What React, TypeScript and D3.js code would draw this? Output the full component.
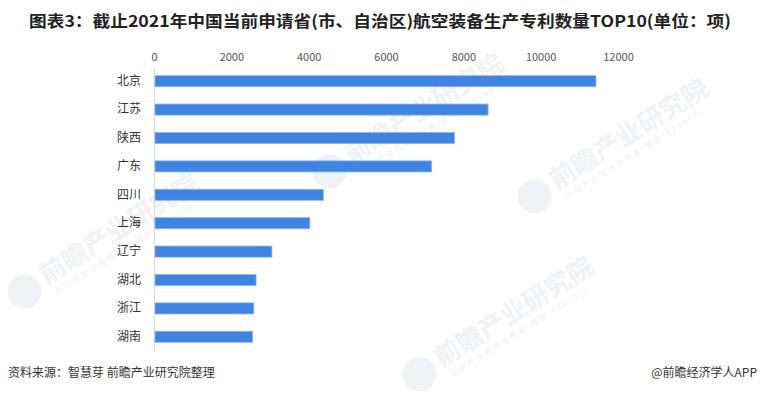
import React, { useEffect, useRef } from "react";
import * as d3 from "d3";

const provinces = ["北京", "江苏", "陕西", "广东", "四川", "上海", "辽宁", "湖北", "浙江", "湖南"];
const patents = [11430, 8640, 7770, 7180, 4380, 4030, 3050, 2640, 2580, 2550];
const xTicks = [0, 2000, 4000, 6000, 8000, 10000, 12000];

const title = "图表3：截止2021年中国当前申请省(市、自治区)航空装备生产专利数量TOP10(单位：项)";
const source = "资料来源：智慧芽 前瞻产业研究院整理";
const brand = "@前瞻经济学人APP";

const W = 760;
const H = 393;
const font = "'Noto Sans CJK SC', 'Noto Sans', sans-serif";

const App = () => {
  const ref = useRef<SVGSVGElement>(null);

  useEffect(() => {
    const svg = d3.select(ref.current);
    svg.selectAll("*").remove();

    const left = 154;
    const top = 67;
    const innerW = 464;
    const innerH = 284;

    // watermark, kept inside the canvas
    const marks = [
      [75, 255],
      [380, 135],
      [470, 338],
      [585, 160],
    ];
    marks.forEach(([mx, my]) => {
      const wg = svg.append("g").attr("transform", `translate(${mx},${my}) rotate(-32)`);
      wg.append("circle").attr("cx", -62).attr("cy", 4).attr("r", 17).attr("fill", "#f0f2f5");
      wg.append("text")
        .attr("x", -40)
        .attr("y", 10)
        .attr("font-family", font)
        .attr("font-size", 26)
        .attr("font-weight", "bold")
        .attr("fill", "#f0f2f5")
        .text("前瞻产业研究院");
      wg.append("text")
        .attr("x", -36)
        .attr("y", 24)
        .attr("font-family", font)
        .attr("font-size", 8)
        .attr("fill", "#f0f2f5")
        .attr("letter-spacing", 2)
        .text("中国产业咨询领导者(股票:839599)");
    });

    svg.append("text")
      .attr("x", W / 2)
      .attr("y", 27)
      .attr("text-anchor", "middle")
      .attr("font-family", font)
      .attr("font-size", 16)
      .attr("font-weight", "bold")
      .attr("fill", "#222")
      .attr("textLength", 702)
      .attr("lengthAdjust", "spacingAndGlyphs")
      .text(title);

    const x = d3.scaleLinear().domain([0, 12000]).range([0, innerW]);
    const y = d3.scaleBand().domain(provinces).range([0, innerH]).paddingInner(0.61).paddingOuter(0.305);

    const g = svg.append("g").attr("transform", `translate(${left},${top})`);

    const xAxis = g.append("g").call(d3.axisTop(x).tickValues(xTicks).tickSize(0).tickPadding(6).tickFormat(d3.format("d")));
    xAxis.select(".domain").remove();
    xAxis.selectAll("text").attr("font-family", font).attr("font-size", 11).attr("fill", "#555");

    const yAxis = g.append("g").call(d3.axisLeft(y).tickSize(0).tickPadding(13));
    yAxis.select(".domain").attr("stroke", "#d9d9d9");
    yAxis.selectAll("text").attr("font-family", font).attr("font-size", 12).attr("fill", "#333");

    g.selectAll("rect.bar")
      .data(patents)
      .join("rect")
      .attr("class", "bar")
      .attr("x", 1)
      .attr("y", (_, i) => y(provinces[i])!)
      .attr("width", (d) => x(d) - 1)
      .attr("height", y.bandwidth())
      .attr("fill", "#3f84e0")
      .attr("stroke", "#8db6ee")
      .attr("stroke-width", 0.8);

    svg.append("text")
      .attr("x", 8)
      .attr("y", 377)
      .attr("font-family", font)
      .attr("font-size", 12)
      .attr("fill", "#333")
      .text(source);

    svg.append("text")
      .attr("x", 757)
      .attr("y", 377)
      .attr("text-anchor", "end")
      .attr("font-family", font)
      .attr("font-size", 12)
      .attr("fill", "#333")
      .text(brand);
  });

  return (
    <svg ref={ref} width={W} height={H} style={{ position: "absolute", left: 0, top: 0, background: "#fff" }}></svg>
  );
};

export default App;
